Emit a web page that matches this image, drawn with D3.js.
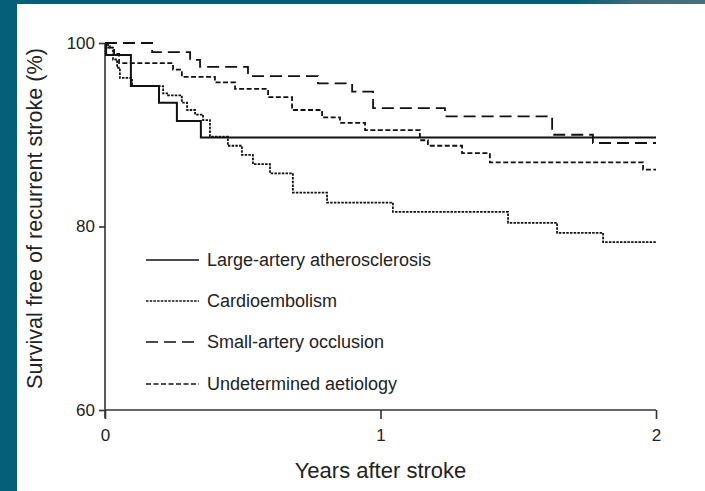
<!DOCTYPE html>
<html>
<head>
<meta charset="utf-8">
<script src="https://cdn.jsdelivr.net/npm/d3@7"></script>
<style>
  html, body { margin: 0; padding: 0; background: #ffffff; }
  svg { display: block; }
  text { font-family: "Liberation Sans", Arial, Helvetica, sans-serif; fill: #222; }
</style>
</head>
<body>
<svg id="chart" width="705" height="491"></svg>
<script>
// Kaplan-Meier step data: time in years after stroke, survival free of recurrence (%)
const largeArteryT = [0, 0.004, 0.094, 0.196, 0.261, 0.348, 2];
const largeArteryV = [100, 98.7, 95.3, 93.5, 91.5, 89.7, 89.7];

const cardioT = [0, 0.011, 0.029, 0.044, 0.054, 0.098, 0.211, 0.229, 0.279, 0.298, 0.327, 0.356, 0.381,
                 0.446, 0.497, 0.537, 0.599, 0.682, 0.806, 1.045, 1.463, 1.641, 1.808, 2];
const cardioV = [100, 99.5, 98.2, 97.3, 96.2, 95.3, 94.5, 94.3, 93.5, 92.7, 92.2, 91.6, 89.8,
                 88.8, 87.8, 86.8, 85.8, 83.7, 82.6, 81.6, 80.4, 79.3, 78.3, 78.3];

const smallArteryT = [0, 0.171, 0.309, 0.345, 0.519, 0.773, 0.897, 0.973, 1.234, 1.623, 1.771, 2];
const smallArteryV = [100, 99.0, 98.15, 97.4, 96.4, 95.6, 94.7, 92.9, 92.0, 90.0, 89.1, 89.1];

const undeterminedT = [0, 0.018, 0.033, 0.051, 0.247, 0.279, 0.399, 0.472, 0.592, 0.679, 0.788,
                       0.853, 0.944, 1.143, 1.172, 1.296, 1.397, 1.953, 2];
const undeterminedV = [100, 99.5, 98.8, 97.8, 97.1, 96.3, 95.7, 95.0, 94.1, 92.7, 91.9,
                       91.3, 90.5, 89.4, 88.8, 88.0, 87.0, 86.2, 86.2];

const seriesNames = ["Large-artery atherosclerosis", "Cardioembolism", "Small-artery occlusion", "Undetermined aetiology"];
const xTicks = [0, 1, 2];
const yTicks = [60, 80, 100];

const series = [
  { name: seriesNames[0], t: largeArteryT, v: largeArteryV, dash: null, width: 2 },
  { name: seriesNames[1], t: cardioT, v: cardioV, dash: "2.5,1.2", width: 1.8 },
  { name: seriesNames[2], t: smallArteryT, v: smallArteryV, dash: "12,6", width: 1.8 },
  { name: seriesNames[3], t: undeterminedT, v: undeterminedV, dash: "5,2.5", width: 1.8 }
];

const svg = d3.select("#chart");
const W = 705, H = 491;

// page frame
svg.append("rect").attr("width", W).attr("height", H).attr("fill", "#ffffff");
const defs = svg.append("defs");
const grad = defs.append("linearGradient").attr("id", "topband").attr("x1", "0").attr("x2", "1");
grad.append("stop").attr("offset", "0").attr("stop-color", "#065f79");
grad.append("stop").attr("offset", "0.82").attr("stop-color", "#065f79");
grad.append("stop").attr("offset", "0.9").attr("stop-color", "#3f6b78");
grad.append("stop").attr("offset", "1").attr("stop-color", "#46707c");
svg.append("rect").attr("x", 0).attr("y", 0).attr("width", W).attr("height", 4).attr("fill", "url(#topband)");
svg.append("rect").attr("x", 0).attr("y", 0).attr("width", 17).attr("height", H).attr("fill", "#065f79");

const x = d3.scaleLinear().domain([0, 2]).range([105, 656]);
const y = d3.scaleLinear().domain([60, 100]).range([410, 43]);

// axes
const xAxis = svg.append("g").attr("transform", `translate(0,${y(60)})`)
  .call(d3.axisBottom(x).tickValues(xTicks).tickFormat(d3.format("d")).tickSize(9).tickPadding(10));
const yAxis = svg.append("g").attr("transform", `translate(${x(0)},0)`)
  .call(d3.axisLeft(y).tickValues(yTicks).tickFormat(d3.format("d")).tickSize(6).tickPadding(4));

[xAxis, yAxis].forEach(g => {
  g.select(".domain").attr("stroke", "#333").attr("stroke-width", 1.6);
  g.selectAll(".tick line").attr("stroke", "#333").attr("stroke-width", 1.6);
  g.selectAll(".tick text").attr("font-size", 17).attr("fill", "#222")
    .attr("font-family", "'Liberation Sans', Arial, sans-serif");
});
xAxis.select(".domain").attr("d", `M${x(0)},0H${x(2)}`);
yAxis.select(".domain").attr("d", `M0,${y(100)}V${y(60) + 8}`);

// curves
const line = d3.line()
  .x(d => x(d[0]))
  .y(d => y(d[1]))
  .curve(d3.curveStepAfter);

svg.append("g").selectAll("path.km")
  .data(series)
  .join("path")
  .attr("class", "km")
  .attr("fill", "none")
  .attr("stroke", "#111")
  .attr("stroke-width", d => d.width)
  .attr("stroke-dasharray", d => d.dash)
  .attr("d", d => line(d.t.map((t, i) => [t, d.v[i]])));

// legend
const legendRows = [260, 301, 342, 384];
const legend = svg.append("g").selectAll("g").data(series).join("g")
  .attr("transform", (d, i) => `translate(146,${legendRows[i]})`);
legend.append("line")
  .attr("x1", 0).attr("x2", 53).attr("y1", 0).attr("y2", 0)
  .attr("stroke", "#111")
  .attr("stroke-width", d => d.width - 0.3)
  .attr("stroke-dasharray", d => d.dash);
legend.append("text")
  .attr("x", 61).attr("y", 0).attr("dy", "0.35em")
  .attr("font-size", 18)
  .text(d => d.name);

// axis titles
svg.append("text")
  .attr("x", x(1)).attr("y", 478)
  .attr("text-anchor", "middle")
  .attr("font-size", 22)
  .text("Years after stroke");
svg.append("text")
  .attr("transform", `translate(42,${(45 + 392) / 2}) rotate(-90)`)
  .attr("text-anchor", "middle")
  .attr("font-size", 21.6)
  .text("Survival free of recurrent stroke (%)");
</script>
</body>
</html>
